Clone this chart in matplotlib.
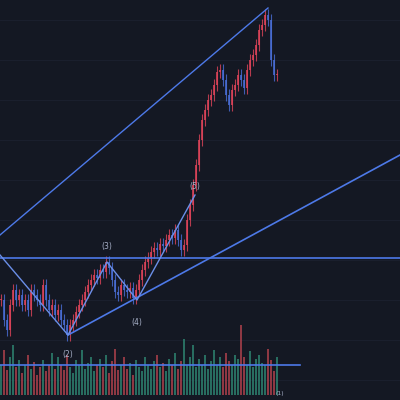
import matplotlib
matplotlib.use("Agg")
import matplotlib.pyplot as plt
import numpy as np

# closing prices per candle (chart units)
closes = [100, 80, 70, 95, 110, 100, 105, 95, 100, 90, 110, 105, 100, 95, 115, 100,
          90, 95, 85, 90, 80, 75, 65, 75, 80, 88, 95, 100, 108, 115, 120, 125, 122,
          130, 128, 138, 132, 120, 108, 105, 115, 110, 108, 112, 102, 110, 120, 130,
          138, 142, 148, 152, 150, 156, 154, 160, 165, 162, 170, 160, 150, 155, 180,
          195, 215, 235, 260, 280, 290, 300, 305, 315, 328, 330, 320, 305, 295, 310,
          315, 325, 320, 312, 330, 340, 345, 355, 370, 375, 385, 380, 340, 325, 325]
volumes = [30, 45, 25, 38, 50, 28, 35, 22, 30, 40, 26, 33, 20, 28, 35, 24, 30, 42,
           26, 38, 30, 25, 40, 28, 22, 35, 30, 45, 26, 32, 38, 24, 30, 36, 28, 40,
           22, 34, 46, 25, 30, 38, 26, 32, 20, 35, 28, 24, 38, 30, 26, 34, 40, 28,
           32, 24, 36, 30, 42, 26, 34, 56, 30, 38, 50, 28, 36, 30, 40, 26, 34, 45,
           30, 38, 28, 42, 34, 30, 40, 36, 70, 38, 30, 44, 28, 36, 40, 32, 30, 46,
           35, 24, 38]
labels = ["(2)", "(3)", "(4)", "(5)"]
label_pts = [(68, 55), (107, 146), (137, 87), (195, 207)]

bg = "#141823"
up, down = "#e0445a", "#4a6fd8"

fig = plt.figure(figsize=(4, 4), dpi=100)
fig.patch.set_facecolor(bg)
ax = fig.add_axes([0, 0, 1, 1])
ax.set_facecolor(bg)
ax.set_xlim(0, 400)
ax.set_ylim(0, 400)
ax.axis("off")

# faint grid
for y in np.arange(20, 400, 40):
    ax.axhline(y, color="#1c2130", lw=0.6, zorder=0)

x = 1 + 3 * np.arange(len(closes))
opens = [closes[0]] + closes[:-1]
for xi, o, c in zip(x, opens, closes):
    col = up if c >= o else down
    lo, hi = min(o, c), max(o, c)
    ax.vlines(xi, lo - 6, hi + 6, color=col, lw=0.8, alpha=0.8, zorder=2)
    ax.bar(xi, max(hi - lo, 1.5), bottom=lo, width=2, color=col, alpha=0.8, zorder=2)

vcols = ["#2f8a75" if c >= o else "#b8434f" for o, c in zip(opens, closes)]
ax.bar(x, volumes, bottom=5, width=2.4, color=vcols, alpha=0.75, zorder=1)

lc = "#4d79e8"
ax.plot([0, 268], [165, 392], color=lc, lw=1)
ax.plot([68, 400], [65, 245], color=lc, lw=1.2)
ax.axhline(142, color=lc, lw=1.2)
ax.plot([0, 300], [35, 35], color=lc, lw=1.2)
ax.plot([0, 68, 107, 137, 195], [145, 65, 138, 100, 205], color="#6b8fe8", lw=1)

for t, (px, py) in zip(labels, label_pts):
    off = -9 if t in ("(2)", "(4)") else 7
    ax.text(px, py + off, t, color="#a7b0c8", fontsize=5.5, ha="center", va="center")
ax.text(280, 6, "(1)", color="#a7b0c8", fontsize=4.5, ha="center", va="center")

fig.savefig("out.png", dpi=100, facecolor=bg)
